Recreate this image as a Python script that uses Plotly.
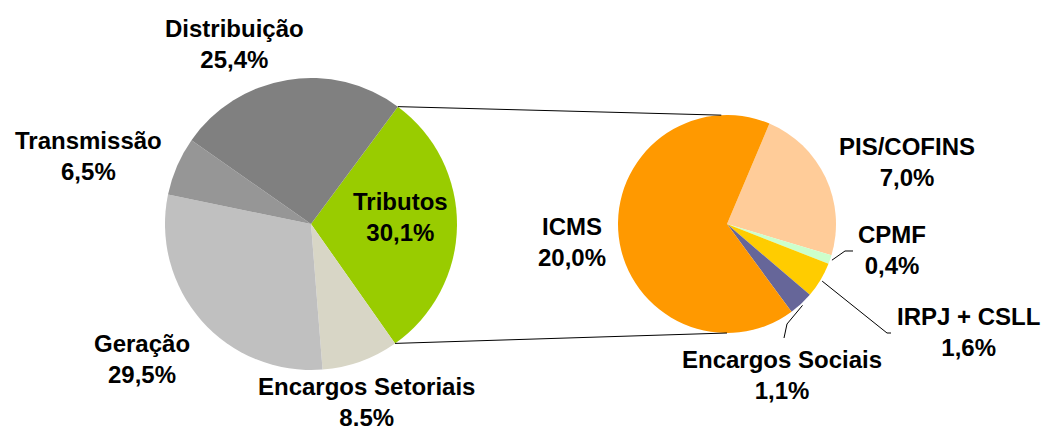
import math
import plotly.graph_objects as go

# ---------------- data ----------------
left_labels = ["Tributos", "Encargos Setoriais", "Geração", "Transmissão", "Distribuição"]
left_values = [30.1, 8.5, 29.5, 6.5, 25.4]
left_pct_text = ["30,1%", "8.5%", "29,5%", "6,5%", "25,4%"]
left_colors = ["#99CC00", "#D8D6C6", "#C0C0C0", "#969696", "#808080"]

right_labels = ["PIS/COFINS", "CPMF", "IRPJ + CSLL", "Encargos Sociais", "ICMS"]
right_values = [7.0, 0.4, 1.6, 1.1, 20.0]
right_pct_text = ["7,0%", "0,4%", "1,6%", "1,1%", "20,0%"]
right_colors = ["#FFCC99", "#CCFFCC", "#FFCC00", "#666699", "#FF9900"]

# ---------------- layout geometry (pixels) ----------------
W, H = 1044, 430
L_CX, L_CY, L_R = 311, 224, 146
R_CX, R_CY, R_R = 727, 224, 109

L_ROT = 36.5   # start angle of Tributos (clockwise from 12 o'clock)
R_ROT = 22.9   # start angle of PIS/COFINS

FONT = dict(family="Liberation Sans, Arial, sans-serif", size=24, color="#000000", weight="bold")


def px(x):
    return x / W


def py(y):
    return 1 - y / H


def dom(cx, cy, r):
    return dict(x=[px(cx - r), px(cx + r)], y=[py(cy + r), py(cy - r)])


def on_circle(cx, cy, r, ang):
    a = math.radians(ang)
    return cx + r * math.sin(a), cy - r * math.cos(a)


fig = go.Figure()
fig.add_trace(go.Pie(
    labels=left_labels, values=left_values, sort=False, direction="clockwise",
    rotation=L_ROT, marker=dict(colors=left_colors, line=dict(width=0)),
    textinfo="none", hoverinfo="label+value", domain=dom(L_CX, L_CY, L_R),
    showlegend=False,
))
fig.add_trace(go.Pie(
    labels=right_labels, values=right_values, sort=False, direction="clockwise",
    rotation=R_ROT, marker=dict(colors=right_colors, line=dict(width=0)),
    textinfo="none", hoverinfo="label+value", domain=dom(R_CX, R_CY, R_R),
    showlegend=False,
))

# ---------------- label positions (block centres, pixels) ----------------
left_pos = {
    "Tributos": (400, 217),
    "Encargos Setoriais": (366, 402),
    "Geração": (142, 359),
    "Transmissão": (88, 156),
    "Distribuição": (234, 44),
}
right_pos = {
    "PIS/COFINS": (907, 162),
    "CPMF": (892, 250),
    "IRPJ + CSLL": (968, 332),
    "Encargos Sociais": (782, 375),
    "ICMS": (572, 242),
}

annotations = []
for lab, pct in zip(left_labels, left_pct_text):
    x, y = left_pos[lab]
    annotations.append(dict(x=px(x), y=py(y), xref="paper", yref="paper",
                            text=f"{lab}<br>{pct}", showarrow=False,
                            xanchor="center", yanchor="middle", font=FONT, align="center"))
for lab, pct in zip(right_labels, right_pct_text):
    x, y = right_pos[lab]
    annotations.append(dict(x=px(x), y=py(y), xref="paper", yref="paper",
                            text=f"{lab}<br>{pct}", showarrow=False,
                            xanchor="center", yanchor="middle", font=FONT, align="center"))

# ---------------- connector lines between pies ----------------
tot_left = sum(left_values)
t_span = left_values[0] / tot_left * 360
p1 = on_circle(L_CX, L_CY, L_R, L_ROT)
p2 = on_circle(L_CX, L_CY, L_R, L_ROT + t_span)
q1 = on_circle(R_CX, R_CY, R_R, -3)
q2 = on_circle(R_CX, R_CY, R_R, 180)

shapes = []
for a, b in [(p1, q1), (p2, q2)]:
    shapes.append(dict(type="line", xref="paper", yref="paper",
                       x0=px(a[0]), y0=py(a[1]), x1=px(b[0]), y1=py(b[1]),
                       line=dict(color="#000000", width=1)))

# leader lines for small slices of the right pie
tot_right = sum(right_values)
cum = R_ROT
mids = {}
for lab, v in zip(right_labels, right_values):
    span = v / tot_right * 360
    mids[lab] = cum + span / 2
    cum += span

leaders = {
    "CPMF": [(845, 251), (853, 251)],
    "IRPJ + CSLL": [(887, 333), (891, 333)],
    "Encargos Sociais": [(787, 324), (784, 338)],
}
for lab, pts in leaders.items():
    s = on_circle(R_CX, R_CY, R_R + 2, mids[lab])
    path_pts = [s] + pts
    d = "M " + " L ".join(f"{px(x):.5f},{py(y):.5f}" for x, y in path_pts)
    shapes.append(dict(type="path", xref="paper", yref="paper", path=d,
                       line=dict(color="#000000", width=1)))

fig.update_layout(
    width=W, height=H,
    margin=dict(l=0, r=0, t=0, b=0),
    paper_bgcolor="#FFFFFF", plot_bgcolor="#FFFFFF",
    annotations=annotations, shapes=shapes,
    showlegend=False,
)

fig.write_html("out.html", config={"displayModeBar": False},
               post_script="document.body.style.margin='0';document.body.style.padding='0';")
